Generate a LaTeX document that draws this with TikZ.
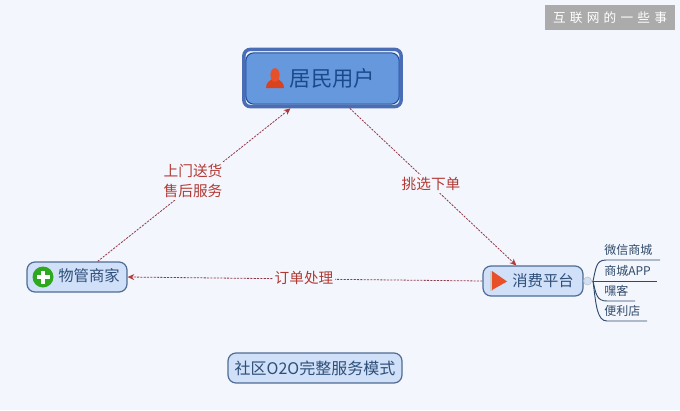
\documentclass[tikz,border=0pt]{standalone}
\usepackage{fontspec}
\setmainfont{Noto Sans CJK SC}
\usetikzlibrary{arrows.meta,calc}
\definecolor{bgc}{HTML}{F4F6FD}
\definecolor{boxfill}{HTML}{CFE0F8}
\definecolor{boxedge}{HTML}{4F6C94}
\definecolor{mainfill}{HTML}{6698DE}
\definecolor{mainedge}{HTML}{4A6DB5}
\definecolor{mainin}{HTML}{1F4E9C}
\definecolor{maintxt}{HTML}{1A4A8C}
\definecolor{txtc}{HTML}{2E4E78}
\definecolor{redc}{HTML}{B23A34}
\definecolor{linkc}{HTML}{8E3A48}
\definecolor{leafc}{HTML}{2F4A6B}
\definecolor{iconred}{HTML}{E8502A}
\definecolor{icondark}{HTML}{D9421F}
\definecolor{icongreen}{HTML}{2EA81E}
\tikzset{
  px/.style={x=0.75pt,y=-0.75pt},
  topic/.style={draw=boxedge,line width=0.9pt,fill=boxfill,rounded corners=6pt,inner sep=0pt,text=txtc},
  link/.style={draw=linkc,line width=0.6pt,dash pattern=on 1.6pt off 0.9pt,-{Stealth[length=5pt,width=4.5pt,color=redc]}},
  linklabel/.style={fill=bgc,text=redc,inner sep=1.5pt,align=center,font=\fontsize{11}{15}\selectfont},
  leaf/.style={text=leafc,inner sep=0pt,font=\fontsize{9}{11}\selectfont},
  branch/.style={draw=leafc,line width=0.7pt},
}
\begin{document}
\begin{tikzpicture}[px]
\useasboundingbox (0,0) rectangle (680,410);
\fill[bgc] (0,0) rectangle (680,410);
% watermark
\node (mark) [fill=black!33,text=white,minimum width=97.5pt,minimum height=18.75pt,inner sep=0pt,font=\fontsize{9.5}{10}\selectfont] at (610,17.5) {互\,\,联\,\,网\,\,的\,\,一\,\,些\,\,事};
% main node
\node (user) [draw=mainedge,line width=2.6pt,fill=white!60!boxfill,rounded corners=5pt,minimum width=118pt,minimum height=43pt,inner sep=0pt] at (322.5,78) {};
\node (userin) [draw=mainin,line width=0.8pt,fill=mainfill,rounded corners=6pt,minimum width=115pt,minimum height=38.5pt,inner sep=0pt] at (322.5,78.5) {};
\node (usertext) [text=maintxt,inner sep=0pt,font=\fontsize{16}{18}\selectfont] at (332.5,78) {居民用户};
% person icon
\fill[icondark] (266,88) .. controls (266,82) and (270,81) .. (272,79) -- (278,79) .. controls (280,81) and (284,82) .. (284,88) -- cycle;
\fill[iconred] (275,75) ellipse (4.6 and 6.8);
% other topics
\node (shop) [topic,minimum width=75pt,minimum height=22.5pt] at (77,277) {};
\node (shoptext) [text=txtc,inner sep=0pt,font=\fontsize{11.5}{14}\selectfont] at (89,276) {物管商家};
\fill[icongreen] (43,277) circle (10.5);
\fill[white] (41,270.5) rectangle (45,283.5);
\fill[white] (36.5,275) rectangle (49.5,279);
\node (plat) [topic,minimum width=75pt,minimum height=22.5pt] at (533,281) {};
\node (plattext) [text=txtc,inner sep=0pt,font=\fontsize{11.5}{14}\selectfont] at (543,281) {消费平台};
\fill[black!20] (490,271) rectangle (492.5,291);
\fill[iconred] (492,271) -- (507,281.5) -- (492,290) -- cycle;
\node (model) [topic,minimum width=130.5pt,minimum height=22.5pt,font=\fontsize{12}{14}\selectfont] at (315,368) {社区O2O完整服务模式};
% connectors
\draw[link] ([xshift=-22.5pt]shop.north east) -- ([xshift=-24pt]user.south);
\draw[link] ([xshift=20.5pt]user.south) -- ([xshift=-12.5pt]plat.north);
\draw[link] (plat.west) -- (shop.east);
\node (lab1) [linklabel] at (193,181) {上门送货\\售后服务};
\node (lab2) [linklabel] at (431,184) {挑选下单};
\node (lab3) [linklabel] at (304,278) {订单处理};
% branches
\coordinate (hub) at (593,281);
\node (hubc) [circle,draw=black!25,fill=boxfill,line width=0.4pt,minimum size=6pt,inner sep=0pt] at (587.5,281) {};
\node (l1) [leaf,anchor=west] at (604,250) {微信商城};
\node (l2) [leaf,anchor=west] at (604,270.5) {商城APP};
\node (l3) [leaf,anchor=west] at (604,291) {嘿客};
\node (l4) [leaf,anchor=west] at (604,311) {便利店};
\draw[draw=black!25,line width=0.6pt] (hubc.east) -- (hub);
\draw[branch] (hub) .. controls (596,268) and (596,260) .. (606,260) -- (660,260);
\draw[branch] (hub) -- (657,281);
\draw[branch] (hub) .. controls (596,295) and (597,301) .. (607,301) -- (635,301);
\draw[branch] (hub) .. controls (596,305) and (597,321) .. (607,321) -- (647,321);
\end{tikzpicture}
\end{document}
